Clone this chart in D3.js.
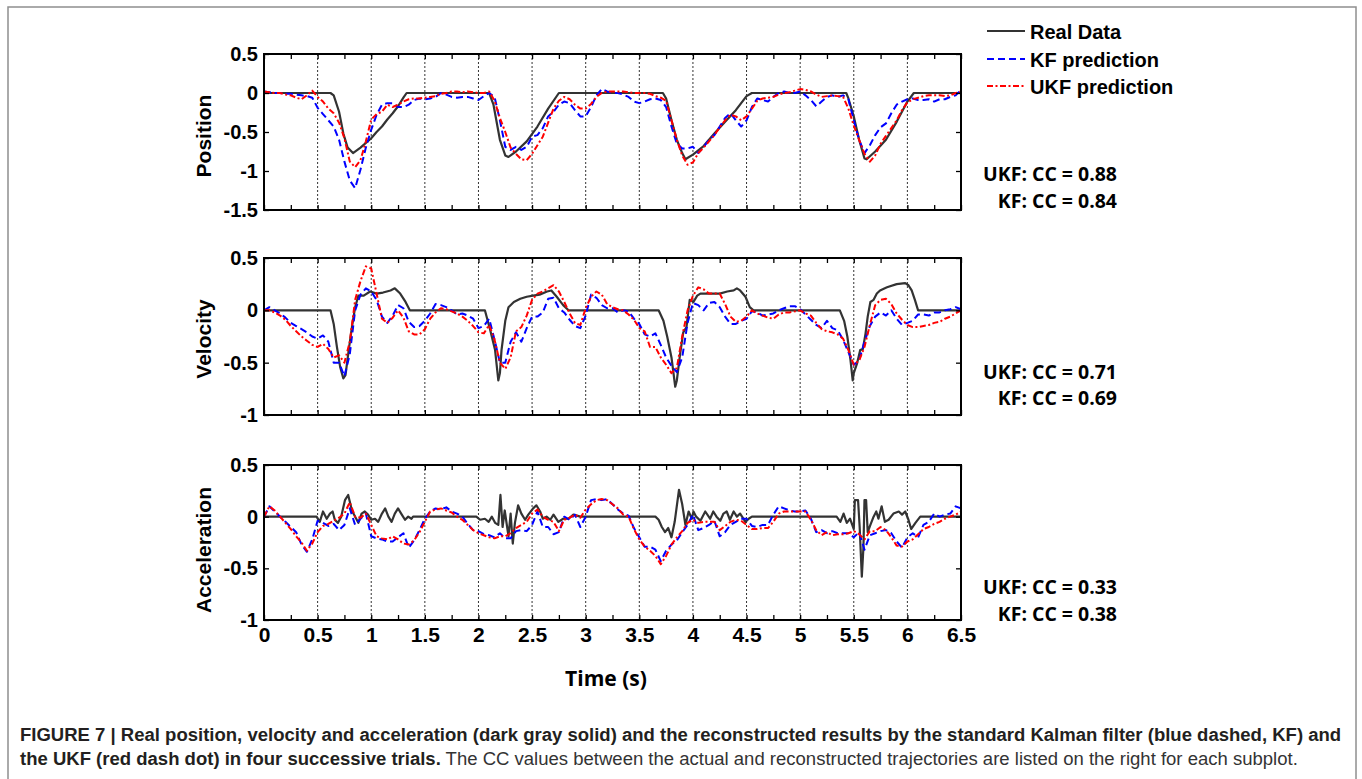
<!DOCTYPE html>
<html>
<head>
<meta charset="utf-8">
<script src="https://cdnjs.cloudflare.com/ajax/libs/d3/7.8.5/d3.min.js"></script>
<style>
  body { margin: 0; background: #fff; }
</style>
</head>
<body>
<div id="chart"></div>
<script>
// time grid for the filter outputs (s)
const time = d3.range(0, 131).map((i) => +(i * 0.05).toFixed(2));

// real trajectories, [t, value] break points
const posReal = [[0,0],[0.62,0],[0.65,-0.03],[0.7,-0.24],[0.74,-0.52],[0.78,-0.7],[0.83,-0.77],[0.9,-0.7],[1.0,-0.58],[1.05,-0.5],[1.1,-0.43],[1.15,-0.34],[1.2,-0.26],[1.25,-0.17],[1.3,-0.06],[1.33,0],
  [2.1,0],[2.14,-0.15],[2.2,-0.6],[2.25,-0.8],[2.28,-0.82],[2.35,-0.75],[2.45,-0.62],[2.55,-0.43],[2.65,-0.2],[2.75,0],
  [3.72,0],[3.75,-0.07],[3.8,-0.35],[3.85,-0.6],[3.9,-0.77],[3.93,-0.85],[4.0,-0.79],[4.1,-0.68],[4.2,-0.52],[4.3,-0.37],[4.4,-0.22],[4.5,-0.04],[4.55,0],
  [5.43,0],[5.45,-0.07],[5.5,-0.3],[5.55,-0.6],[5.6,-0.84],[5.62,-0.85],[5.7,-0.75],[5.8,-0.6],[5.9,-0.37],[6.0,-0.11],[6.06,0],[6.5,0]];

const velReal = [[0,0],[0.62,0],[0.65,-0.13],[0.68,-0.35],[0.71,-0.54],[0.74,-0.65],[0.76,-0.62],[0.79,-0.38],[0.82,-0.16],[0.85,0.03],[0.88,0.14],[0.93,0.14],[0.99,0.18],[1.05,0.16],[1.11,0.17],[1.18,0.19],[1.22,0.21],[1.27,0.16],[1.32,0.08],[1.36,0],
  [2.06,0],[2.11,-0.19],[2.155,-0.38],[2.185,-0.67],[2.2,-0.6],[2.215,-0.38],[2.25,-0.1],[2.28,0.03],[2.33,0.08],[2.39,0.11],[2.45,0.13],[2.51,0.14],[2.57,0.15],[2.64,0.18],[2.68,0.19],[2.73,0.13],[2.79,0.05],[2.84,0],
  [3.68,0],[3.725,-0.1],[3.76,-0.25],[3.8,-0.45],[3.835,-0.73],[3.85,-0.67],[3.88,-0.42],[3.91,-0.21],[3.94,-0.16],[3.97,0.1],[4.005,0.08],[4.04,0.14],[4.07,0.16],[4.13,0.16],[4.19,0.16],[4.25,0.16],[4.32,0.18],[4.38,0.19],[4.41,0.21],[4.44,0.19],[4.49,0.13],[4.53,0.03],[4.565,0],
  [5.37,0],[5.41,-0.1],[5.44,-0.25],[5.47,-0.48],[5.49,-0.67],[5.5,-0.6],[5.53,-0.51],[5.56,-0.38],[5.585,-0.37],[5.61,-0.22],[5.63,-0.06],[5.655,0.08],[5.685,0.1],[5.715,0.16],[5.745,0.19],[5.81,0.22],[5.9,0.25],[5.98,0.26],[6.01,0.24],[6.04,0.19],[6.07,0.1],[6.1,0],[6.5,0]];

const accReal = [[0,0],[0.49,0],[0.52,-0.05],[0.55,0.05],[0.585,-0.02],[0.615,0.03],[0.64,0.05],[0.66,-0.03],[0.69,-0.06],[0.72,0],[0.755,0.16],[0.785,0.21],[0.82,0.06],[0.85,0],[0.88,-0.06],[0.91,0.03],[0.94,0.05],[0.97,0.02],[1.0,-0.03],[1.035,-0.02],[1.065,-0.05],[1.1,0.03],[1.13,0.08],[1.16,0],[1.19,-0.05],[1.22,0.03],[1.25,0.08],[1.285,0.02],[1.315,-0.03],[1.345,0],[1.375,-0.02],[1.39,0],
  [1.98,0],[2.015,-0.03],[2.06,-0.02],[2.095,-0.05],[2.125,0],[2.155,-0.06],[2.185,-0.08],[2.205,0.21],[2.225,-0.1],[2.245,0.06],[2.28,-0.19],[2.3,0.03],[2.32,-0.26],[2.34,-0.06],[2.37,0.11],[2.4,0.03],[2.435,-0.03],[2.465,0.02],[2.51,0.08],[2.54,0.11],[2.575,0.05],[2.6,-0.02],[2.635,0],[2.67,-0.03],[2.7,0.02],[2.745,-0.05],[2.79,-0.02],[2.84,-0.02],[2.885,0.02],[2.95,0],
  [3.65,0],[3.68,-0.03],[3.71,-0.1],[3.74,-0.15],[3.77,-0.11],[3.8,-0.2],[3.83,-0.05],[3.87,0.26],[3.9,0.12],[3.93,-0.08],[3.96,0.05],[3.99,-0.02],[4.005,0.05],[4.03,0],[4.07,-0.04],[4.115,0.05],[4.16,-0.02],[4.19,0.05],[4.22,0],[4.255,-0.04],[4.285,0.03],[4.315,0.05],[4.345,-0.03],[4.38,0.05],[4.41,0],[4.44,0.03],[4.49,-0.05],[4.52,-0.02],[4.55,0],
  [5.34,0],[5.375,-0.05],[5.405,0.03],[5.435,-0.06],[5.465,-0.02],[5.5,-0.12],[5.51,0.16],[5.54,0.16],[5.555,-0.1],[5.575,-0.58],[5.59,-0.3],[5.6,0.16],[5.615,0.16],[5.63,-0.15],[5.655,-0.08],[5.685,0],[5.71,0.05],[5.73,-0.02],[5.76,0.1],[5.79,-0.05],[5.825,-0.03],[5.87,0.03],[5.92,0.05],[5.95,0.02],[5.98,0.05],[6.01,-0.03],[6.035,-0.12],[6.075,-0.06],[6.12,0],[6.5,0]];

// KF and UKF reconstructions on the 0.05 s grid
const posKF = [
  0.02, 0.01, 0.0, 0.0, -0.01, -0.01, -0.02, -0.03, -0.04, -0.06,
  -0.19, -0.27, -0.35, -0.43, -0.6, -0.88, -1.12, -1.22, -0.98, -0.7,
  -0.47, -0.28, -0.15, -0.13, -0.13, -0.18, -0.18, -0.15, -0.09, -0.07,
  -0.08, -0.07, -0.05, 0.0, -0.02, -0.05, -0.06, -0.05, -0.05, -0.07,
  -0.09, -0.04, 0.0, -0.05, -0.35, -0.69, -0.73, -0.69, -0.73, -0.69,
  -0.56, -0.54, -0.45, -0.3, -0.24, -0.15, -0.11, -0.13, -0.22, -0.3,
  -0.3, -0.18, -0.03, 0.05, 0.02, 0.0, 0.0, -0.02, -0.05, -0.11,
  -0.13, -0.11, -0.08, -0.07, -0.09, -0.18, -0.43, -0.65, -0.71, -0.71,
  -0.69, -0.77, -0.69, -0.6, -0.54, -0.43, -0.32, -0.26, -0.35, -0.43,
  -0.35, -0.18, -0.07, -0.09, -0.11, -0.05, 0.0, 0.02, 0.0, 0.0,
  0.02, -0.03, -0.09, -0.17, -0.11, -0.05, -0.03, -0.05, -0.03, -0.08,
  -0.35, -0.6, -0.77, -0.67, -0.54, -0.44, -0.39, -0.26, -0.15, -0.11,
  -0.08, -0.07, -0.09, -0.09, -0.08, -0.11, -0.08, -0.08, -0.05, -0.03,
  0.04
];
const posUKF = [
  0.02, 0.01, 0.0, 0.0, -0.02, -0.03, -0.06, -0.08, -0.03, 0.03,
  -0.05, -0.11, -0.2, -0.26, -0.38, -0.58, -0.88, -0.95, -0.86, -0.62,
  -0.34, -0.27, -0.24, -0.15, -0.18, -0.15, -0.11, -0.08, -0.07, -0.07,
  -0.06, -0.05, -0.04, -0.01, 0.0, 0.02, 0.02, 0.01, 0.02, 0.01,
  0.0, 0.0, 0.02, -0.1, -0.32, -0.5, -0.7, -0.78, -0.85, -0.86,
  -0.78, -0.67, -0.56, -0.38, -0.2, -0.1, -0.05, -0.08, -0.15, -0.2,
  -0.2, -0.14, -0.05, 0.0, 0.02, 0.02, 0.02, 0.02, 0.01, 0.0,
  0.0, 0.0, -0.01, -0.04, -0.06, -0.1, -0.35, -0.6, -0.8, -0.92,
  -0.89, -0.77, -0.7, -0.62, -0.54, -0.44, -0.35, -0.28, -0.3, -0.35,
  -0.3, -0.2, -0.1, -0.07, -0.06, -0.05, -0.02, 0.0, 0.01, 0.03,
  0.05, 0.04, 0.02, -0.02, -0.05, -0.04, -0.03, -0.04, -0.05, -0.2,
  -0.42, -0.6, -0.78, -0.88, -0.8, -0.65, -0.55, -0.45, -0.35, -0.22,
  -0.12, -0.08, -0.06, -0.04, -0.03, -0.03, -0.03, -0.04, -0.03, 0.0,
  0.02
];
const velKF = [
  0.0, 0.03, 0.0, -0.03, -0.07, -0.12, -0.15, -0.18, -0.21, -0.25,
  -0.27, -0.24, -0.3, -0.5, -0.5, -0.63, -0.42, 0.0, 0.15, 0.21,
  0.18, 0.1, -0.06, -0.12, -0.05, 0.05, 0.02, -0.11, -0.16, -0.15,
  -0.1, -0.03, 0.06, 0.05, 0.03, 0.0, -0.04, -0.03, -0.05, -0.08,
  -0.17, -0.15, -0.08, -0.28, -0.5, -0.5, -0.3, -0.21, -0.3, -0.17,
  -0.06, -0.06, -0.02, 0.11, 0.12, 0.02, -0.02, -0.09, -0.15, -0.17,
  -0.05, 0.15, 0.12, 0.05, 0.02, 0.02, -0.02, 0.0, -0.01, -0.08,
  -0.13, -0.23, -0.25, -0.22, -0.33, -0.45, -0.53, -0.59, -0.45, -0.12,
  0.07, 0.05, 0.0, 0.07, 0.08, 0.03, -0.06, -0.13, -0.13, -0.1,
  -0.08, -0.01, -0.02, -0.05, -0.04, -0.03, 0.0, 0.02, 0.04, 0.04,
  0.01, -0.04, -0.09, -0.14, -0.17, -0.1, -0.17, -0.19, -0.28, -0.4,
  -0.52, -0.48, -0.3, -0.15, -0.06, -0.02, -0.05, 0.0, -0.08, -0.14,
  -0.12, -0.1, -0.04, -0.04, -0.05, -0.02, -0.02, 0.0, 0.01, 0.03,
  0.01
];
const velUKF = [
  0.0, 0.0, -0.02, -0.05, -0.09, -0.15, -0.2, -0.25, -0.29, -0.33,
  -0.35, -0.32, -0.37, -0.45, -0.43, -0.5, -0.3, 0.1, 0.28, 0.42,
  0.4, 0.16, -0.08, -0.12, -0.07, 0.0, -0.07, -0.2, -0.23, -0.23,
  -0.18, -0.08, -0.02, 0.02, 0.01, -0.01, -0.03, -0.06, -0.1, -0.15,
  -0.21, -0.22, -0.14, -0.28, -0.5, -0.56, -0.45, -0.2, -0.16, -0.05,
  0.1, 0.16, 0.18, 0.21, 0.24, 0.18, 0.08, -0.03, -0.12, -0.14,
  0.02, 0.13, 0.18, 0.15, 0.06, 0.03, 0.01, 0.0, -0.04, -0.09,
  -0.17, -0.2, -0.35, -0.35, -0.45, -0.52, -0.6, -0.55, -0.25, 0.0,
  0.14, 0.22, 0.2, 0.16, 0.16, 0.16, 0.06, -0.06, -0.11, -0.1,
  -0.06, 0.0, -0.03, -0.05, -0.07, -0.08, -0.04, -0.02, -0.02, -0.01,
  0.0, -0.03, -0.05, -0.12, -0.18, -0.2, -0.21, -0.23, -0.27, -0.38,
  -0.52, -0.48, -0.35, -0.14, 0.05, 0.1, 0.11, 0.06, -0.03, -0.09,
  -0.14, -0.16, -0.16, -0.15, -0.14, -0.12, -0.11, -0.08, -0.06, -0.03,
  0.0
];
const accKF = [
  0.0, 0.1, 0.05, 0.0, -0.05, -0.1, -0.15, -0.27, -0.34, -0.22,
  -0.04, -0.06, -0.09, -0.07, -0.13, -0.08, 0.08, -0.08, -0.02, 0.03,
  -0.19, -0.21, -0.22, -0.24, -0.24, -0.2, -0.16, -0.3, -0.23, -0.13,
  -0.02, 0.05, 0.08, 0.07, 0.09, 0.05, 0.03, 0.0, -0.07, -0.13,
  -0.14, -0.17, -0.18, -0.2, -0.16, -0.21, -0.21, -0.14, -0.13, -0.14,
  -0.08, 0.05, -0.1, -0.1, -0.17, -0.15, 0.0, -0.03, 0.02, -0.1,
  0.0, 0.16, 0.17, 0.16, 0.17, 0.12, 0.07, 0.03, 0.01, -0.11,
  -0.2, -0.29, -0.29, -0.32, -0.43, -0.33, -0.27, -0.23, -0.15, -0.08,
  0.02, -0.13, -0.11, -0.08, -0.04, -0.19, -0.15, -0.08, -0.05, -0.02,
  -0.02, -0.09, -0.1, -0.08, -0.08, 0.02, 0.1, 0.08, 0.06, 0.05,
  0.05, 0.06, -0.02, -0.15, -0.13, -0.16, -0.14, -0.16, -0.16, -0.16,
  -0.2, -0.15, -0.32, -0.18, -0.16, -0.14, -0.13, -0.16, -0.24, -0.3,
  -0.2, -0.16, -0.2, -0.08, -0.05, 0.03, 0.0, 0.02, 0.03, 0.1,
  0.08
];
const accUKF = [
  0.0, 0.1, 0.06, 0.0, -0.06, -0.12, -0.19, -0.25, -0.33, -0.26,
  -0.15, -0.09, -0.07, -0.04, -0.01, 0.03, 0.14, 0.0, -0.01, 0.03,
  -0.08, -0.19, -0.21, -0.22, -0.19, -0.22, -0.26, -0.27, -0.23, -0.15,
  -0.05, 0.05, 0.07, 0.08, 0.06, 0.04, 0.0, -0.03, -0.08, -0.13,
  -0.16, -0.18, -0.2, -0.21, -0.19, -0.19, -0.16, -0.11, -0.08, -0.05,
  0.03, 0.07, 0.0, -0.03, -0.05, -0.14, -0.03, -0.01, 0.02, -0.01,
  0.07, 0.12, 0.16, 0.17, 0.16, 0.12, 0.08, 0.02, 0.0, -0.12,
  -0.22, -0.29, -0.33, -0.38, -0.46, -0.38, -0.27, -0.2, -0.14, -0.06,
  -0.03, -0.06, -0.05, -0.05, -0.05, -0.13, -0.09, -0.05, -0.03, -0.04,
  -0.08, -0.12, -0.12, -0.11, -0.11, -0.05, 0.03, 0.05, 0.05, 0.05,
  0.05, 0.05, -0.03, -0.13, -0.18, -0.15, -0.18, -0.17, -0.17, -0.16,
  -0.14, -0.17, -0.22, -0.14, -0.14, -0.1, -0.13, -0.2, -0.28, -0.29,
  -0.24, -0.22, -0.17, -0.12, -0.1, -0.07, -0.05, -0.02, 0.0, 0.02,
  0.05
];

const panelNames = ["Position", "Velocity", "Acceleration"];
const yDomains = [[-1.5, 0.5], [-1, 0.5], [-1, 0.5]];
const yTicks = [[-1.5, -1, -0.5, 0, 0.5], [-1, -0.5, 0, 0.5], [-1, -0.5, 0, 0.5]];
const ccUKF = ["0.88", "0.71", "0.33"];
const ccKF = ["0.84", "0.69", "0.38"];
const legendNames = ["Real Data", "KF prediction", "UKF prediction"];

const realSeries = [posReal, velReal, accReal];
const kfSeries = [posKF, velKF, accKF];
const ukfSeries = [posUKF, velUKF, accUKF];

// layout
const W = 1362, H = 779;
const plotLeft = 264, plotWidth = 697;
const panelTop = [54, 258, 465];
const panelHeight = [156, 157, 155];
const labelY = [136, 339, 550];
const ccY = [[181, 208], [379, 405], [594, 621]];
const arial = "'Liberation Sans', Arial, Helvetica, sans-serif";
const calibri = "'Open Sans', 'Noto Sans', sans-serif";

const styles = [
  { color: "#333333", dash: null, width: 2.2 },
  { color: "#0000ff", dash: "7,4", width: 2 },
  { color: "#ff0000", dash: "6,2.5,2,2.5", width: 2 },
];

function fitText(sel, target) {
  const w = sel.node().getBBox().width;
  sel.attr("font-size", (parseFloat(sel.attr("font-size")) * target) / w);
  return parseFloat(sel.attr("font-size"));
}

const svg = d3
  .select("#chart")
  .append("svg")
  .attr("width", W)
  .attr("height", H)
  .style("background", "#fff");

// outer frame of the figure
svg
  .append("rect")
  .attr("x", 8)
  .attr("y", 7)
  .attr("width", 1348)
  .attr("height", 820)
  .attr("fill", "none")
  .attr("stroke", "#8f8f8f")
  .attr("stroke-width", 1.5);

const x = d3.scaleLinear().domain([0, 6.5]).range([0, plotWidth]);

panelNames.forEach(function (name, i) {
  const h = panelHeight[i];
  const y = d3.scaleLinear().domain(yDomains[i]).range([h, 0]);
  const g = svg
    .append("g")
    .attr("transform", "translate(" + plotLeft + "," + panelTop[i] + ")");

  // dotted vertical grid
  g.selectAll(".grid")
    .data(d3.range(0.5, 6.01, 0.5))
    .join("line")
    .attr("x1", (d) => x(d))
    .attr("x2", (d) => x(d))
    .attr("y1", 0)
    .attr("y2", h)
    .attr("stroke", "#333")
    .attr("stroke-width", 1)
    .attr("stroke-dasharray", "2,2");

  const line = d3
    .line()
    .x((d) => x(d[0]))
    .y((d) => y(d[1]));

  const series = [
    realSeries[i],
    time.map((t, k) => [t, kfSeries[i][k]]),
    time.map((t, k) => [t, ukfSeries[i][k]]),
  ];
  series.forEach(function (s, k) {
    g.append("path")
      .datum(s)
      .attr("d", line)
      .attr("fill", "none")
      .attr("stroke", styles[k].color)
      .attr("stroke-width", styles[k].width)
      .attr("stroke-dasharray", styles[k].dash)
      .attr("stroke-linejoin", "round");
  });

  const isBottom = i === panelNames.length - 1;
  const xTicks = d3.range(0, 6.51, 0.25);

  // bottom axis
  const gx = g
    .append("g")
    .attr("transform", "translate(0," + h + ")")
    .call(
      d3
        .axisBottom(x)
        .tickValues(xTicks)
        .tickSizeInner(-5)
        .tickSizeOuter(0)
        .tickPadding(7)
        .tickFormat((d) => (isBottom && d % 0.5 === 0 ? String(d) : ""))
    );
  // top axis, ticks only
  const gt = g
    .append("g")
    .call(
      d3.axisTop(x).tickValues(xTicks).tickSizeInner(-5).tickSizeOuter(0).tickFormat("")
    );
  // left axis
  const gy = g.append("g").call(
    d3
      .axisLeft(y)
      .tickValues(yTicks[i])
      .tickSizeInner(-5)
      .tickSizeOuter(0)
      .tickPadding(6)
      .tickFormat((d) => String(d))
  );
  // right axis, ticks only
  const gr = g
    .append("g")
    .attr("transform", "translate(" + plotWidth + ",0)")
    .call(
      d3.axisRight(y).tickValues(yTicks[i]).tickSizeInner(-5).tickSizeOuter(0).tickFormat("")
    );

  [gx, gt, gy, gr].forEach(function (a) {
    a.select(".domain").remove();
    a.selectAll(".tick line").attr("stroke", "#000").attr("stroke-width", 1.3);
    a.selectAll("text")
      .attr("fill", "#000")
      .style("font-family", arial)
      .style("font-weight", "bold")
      .style("font-size", "20px");
  });
  gx.selectAll("text").style("font-size", "21px");

  // frame
  g.append("rect")
    .attr("width", plotWidth)
    .attr("height", h)
    .attr("fill", "none")
    .attr("stroke", "#000")
    .attr("stroke-width", 2);

  // y label
  svg
    .append("text")
    .attr("transform", "translate(211," + labelY[i] + ") rotate(-90)")
    .attr("text-anchor", "middle")
    .style("font-family", arial)
    .style("font-weight", "bold")
    .attr("font-size", 21)
    .text(name);

  // correlation values
  const t1 = svg
    .append("text")
    .attr("x", 1117)
    .attr("y", ccY[i][0])
    .attr("text-anchor", "end")
    .style("font-family", calibri)
    .style("font-weight", "bold")
    .attr("font-size", 20)
    .text("UKF: CC = " + ccUKF[i]);
  const fs = fitText(t1, 134);
  svg
    .append("text")
    .attr("x", 1117)
    .attr("y", ccY[i][1])
    .attr("text-anchor", "end")
    .style("font-family", calibri)
    .style("font-weight", "bold")
    .attr("font-size", fs)
    .text("KF: CC = " + ccKF[i]);
});

// x axis title
const xt = svg
  .append("text")
  .attr("x", 606)
  .attr("y", 686)
  .attr("text-anchor", "middle")
  .style("font-family", calibri)
  .style("font-weight", "bold")
  .attr("font-size", 22)
  .text("Time (s)");
fitText(xt, 82);

// legend
const legendY = [31, 59, 86];
const legend = svg
  .selectAll(".legend")
  .data(legendNames)
  .join("g")
  .attr("transform", (d, k) => "translate(987," + legendY[k] + ")");
legend
  .append("line")
  .attr("x1", 0)
  .attr("x2", 38)
  .attr("stroke", (d, k) => styles[k].color)
  .attr("stroke-width", (d, k) => styles[k].width)
  .attr("stroke-dasharray", (d, k) => styles[k].dash);
legend
  .append("text")
  .attr("x", 43)
  .attr("y", 7.5)
  .style("font-family", arial)
  .style("font-weight", "bold")
  .attr("font-size", 20)
  .text((d) => d);

// caption
const cap1 = svg
  .append("text")
  .attr("x", 20)
  .attr("y", 741)
  .attr("fill", "#231f20")
  .style("font-family", arial)
  .style("font-weight", "bold")
  .attr("font-size", 17)
  .text(
    "FIGURE 7 | Real position, velocity and acceleration (dark gray solid) and the reconstructed results by the standard Kalman filter (blue dashed, KF) and"
  );
const capSize = fitText(cap1, 1322);
const cap2 = svg
  .append("text")
  .attr("x", 20)
  .attr("y", 765)
  .attr("fill", "#231f20")
  .style("font-family", arial)
  .attr("font-size", capSize);
cap2
  .append("tspan")
  .style("font-weight", "bold")
  .text("the UKF (red dash dot) in four successive trials.");
cap2
  .append("tspan")
  .attr("fill", "#333")
  .text(
    " The CC values between the actual and reconstructed trajectories are listed on the right for each subplot."
  );
</script>
</body>
</html>
